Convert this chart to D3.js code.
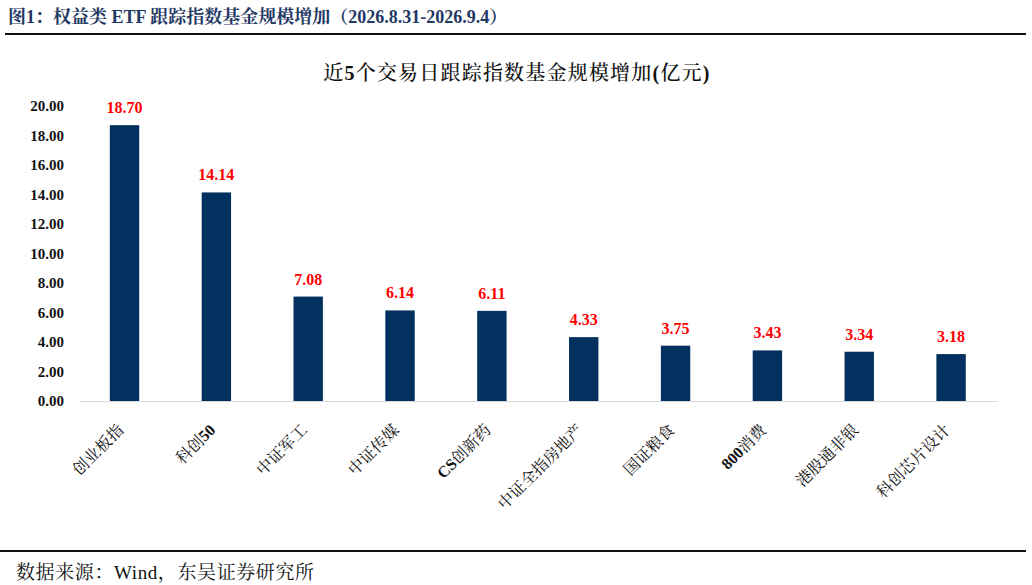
<!DOCTYPE html>
<html><head><meta charset="utf-8">
<script src="https://cdn.jsdelivr.net/npm/d3@7/dist/d3.min.js"></script>
<style>
body{margin:0;background:#fff;}
svg{display:block;}
</style></head><body>
<svg id="c" width="1032" height="585"></svg>
<script>
const categories = ["创业板指","科创50","中证军工","中证传媒","CS创新药","中证全指房地产","国证粮食","800消费","港股通非银","科创芯片设计"];
const values = [18.70,14.14,7.08,6.14,6.11,4.33,3.75,3.43,3.34,3.18];
const yTicks = [0,2,4,6,8,10,12,14,16,18,20];

const FONT = "'Liberation Serif','Noto Serif CJK SC','Noto Sans CJK SC',serif";
const svg = d3.select("#c");

// write text with latin/digit runs bold and CJK runs normal
function mixed(sel, str, latinBold, cjkWeight) {
  const runs = str.match(/[\x00-\x7F]+|[^\x00-\x7F]+/g) || [];
  runs.forEach(r => {
    const ascii = /^[\x00-\x7F]+$/.test(r);
    sel.append("tspan").attr("font-weight", ascii ? (latinBold ? "bold" : "normal") : cjkWeight).text(r);
  });
}

// header
svg.append("text").attr("x",8).attr("y",23).attr("fill","#1F3864")
  .attr("font-family",FONT).attr("font-size",18).attr("font-weight","bold")
  .text("图1：权益类 ETF 跟踪指数基金规模增加（2026.8.31-2026.9.4）");
svg.append("line").attr("x1",5).attr("x2",1026).attr("y1",34).attr("y2",34)
  .attr("stroke","#111").attr("stroke-width",2.2);
svg.append("line").attr("x1",0).attr("x2",1026).attr("y1",551).attr("y2",551)
  .attr("stroke","#111").attr("stroke-width",2.2);
const foot = svg.append("text").attr("x",16).attr("y",579).attr("fill","#111")
  .attr("font-family",FONT).attr("font-size",19).attr("letter-spacing",0.6);
foot.text("数据来源：Wind，东吴证券研究所");

// chart title
const ct = svg.append("text").attr("x",517).attr("y",80).attr("text-anchor","middle").attr("fill","#111")
  .attr("font-family",FONT).attr("font-size",20).attr("letter-spacing",1.2);
mixed(ct, "近5个交易日跟踪指数基金规模增加(亿元)", true, "500");

const x = d3.scaleBand().domain(categories).range([78.6,997]).paddingInner(0.68).paddingOuter(0.34);
const y = d3.scaleLinear().domain([0,20]).range([401,106]);

// y axis labels
const yAxis = d3.axisLeft(y).tickValues(yTicks).tickFormat(d3.format(".2f")).tickSize(0).tickPadding(14);
const gy = svg.append("g").attr("transform","translate(78,0)").call(yAxis);
gy.select(".domain").remove();
gy.selectAll("text").attr("font-family",FONT).attr("font-size",15).attr("font-weight","bold").attr("fill","#111");

// bars
svg.append("g").selectAll("rect").data(values).join("rect")
  .attr("x",(d,i)=>x(categories[i])).attr("width",x.bandwidth())
  .attr("y",d=>y(d)).attr("height",d=>y(0)-y(d)).attr("fill","#02305F");

// x axis
const xAxis = d3.axisBottom(x).tickSize(0).tickPadding(0);
const gx = svg.append("g").attr("transform","translate(0,401)").call(xAxis);
gx.select(".domain").attr("stroke","#d9d9d9").attr("stroke-width",1.2);
gx.selectAll(".tick text").each(function(d){
  const t = d3.select(this);
  t.text(null);
  mixed(t, d, true, "normal");
})
  .attr("font-family",FONT).attr("font-size",16).attr("fill","#111")
  .attr("text-anchor","end").attr("dy",0).attr("y",0)
  .attr("transform","translate(0,30) rotate(-45)");

// value labels
svg.append("g").selectAll("text").data(values).join("text")
  .attr("x",(d,i)=>x(categories[i])+x.bandwidth()/2).attr("y",d=>y(d)-12)
  .attr("text-anchor","middle").attr("fill","#FF0000")
  .attr("font-family",FONT).attr("font-size",16).attr("font-weight","bold")
  .text(d=>d3.format(".2f")(d));
</script>
</body></html>
